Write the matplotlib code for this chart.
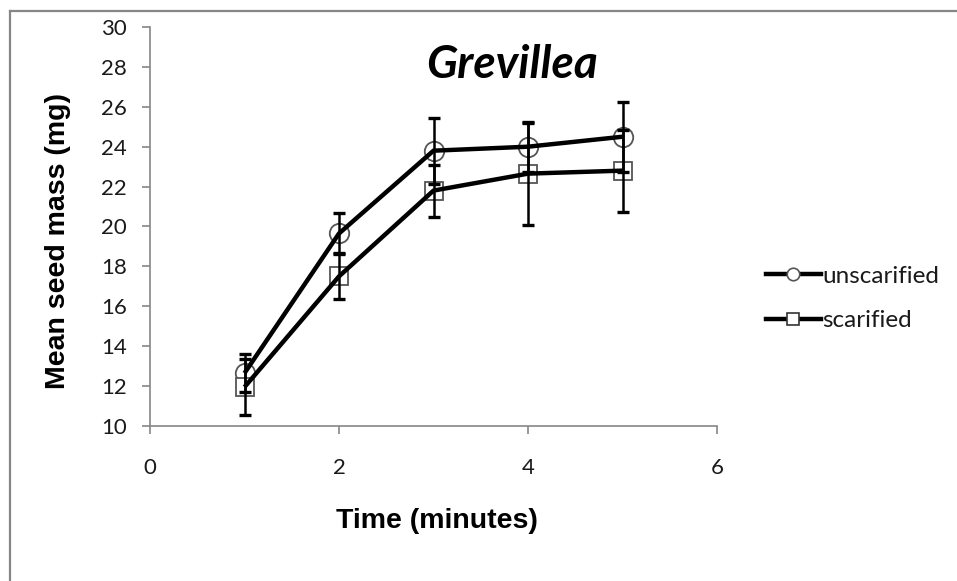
import matplotlib
matplotlib.use("Agg")
import matplotlib.pyplot as plt
from matplotlib.lines import Line2D

time = [1, 2, 3, 4, 5]
unscarified = [12.65, 19.65, 23.8, 24.0, 24.5]
unscarified_err = [0.95, 1.05, 1.65, 1.25, 1.75]
scarified = [11.95, 17.5, 21.8, 22.65, 22.8]
scarified_err = [1.4, 1.15, 1.3, 2.55, 2.05]
series_names = ["unscarified", "scarified"]
title = "Grevillea"
xlabel = "Time (minutes)"
ylabel = "Mean seed mass (mg)"
xticks = [0, 2, 4, 6]
yticks = [10, 12, 14, 16, 18, 20, 22, 24, 26, 28, 30]

W, H = 957, 581
fig = plt.figure(figsize=(W / 100, H / 100), dpi=100)
fig.patch.set_facecolor("white")
# outer chart-area border (only left and top visible in the frame)
fig.add_artist(Line2D([9.5 / W, 9.5 / W], [0, 1 - 10.5 / H], transform=fig.transFigure,
                      color="#868686", linewidth=1.6))
fig.add_artist(Line2D([9.5 / W, 1], [1 - 10.5 / H, 1 - 10.5 / H], transform=fig.transFigure,
                      color="#868686", linewidth=1.6))

ax = fig.add_axes([150 / W, 1 - 426 / H, (717 - 150) / W, (426 - 27) / H])
ax.set_xlim(0, 6)
ax.set_ylim(10, 30)
for s in ["top", "right"]:
    ax.spines[s].set_visible(False)
for s in ["left", "bottom"]:
    ax.spines[s].set_color("#868686")
    ax.spines[s].set_linewidth(1.2)
ax.tick_params(axis="both", direction="out", length=5.8, width=1.2, color="#868686",
               labelsize=16, labelcolor="#1a1a1a")
ax.tick_params(axis="x", pad=17)
ax.tick_params(axis="y", pad=11)
ax.set_xticks(xticks)
ax.set_yticks(yticks)
for lab in ax.get_xticklabels() + ax.get_yticklabels():
    lab.set_family("Lato")

ms_styles = [("o", 14), ("s", 13)]
for vals, errs, (mk, ms) in zip([unscarified, scarified], [unscarified_err, scarified_err], ms_styles):
    ax.plot(time, vals, linestyle="none", marker=mk, markersize=ms,
            markerfacecolor="white", markeredgecolor="#555555", markeredgewidth=1.3, zorder=2)
    ax.errorbar(time, vals, yerr=errs, fmt="none", ecolor="black", elinewidth=1.8,
                capsize=4.5, capthick=2.4, zorder=3)
    ax.plot(time, vals, color="black", linewidth=3.2, zorder=4, solid_capstyle="butt")

fig.text(512 / W, 1 - 65 / H, title, fontsize=33, fontweight="bold", fontstyle="italic",
         family="Lato", ha="center", va="center")
fig.text(437 / W, 1 - 521 / H, xlabel, fontsize=20.5, fontweight="bold",
         family="Liberation Sans", ha="center", va="center")
fig.text(58 / W, 1 - 241 / H, ylabel, fontsize=20.5, fontweight="bold",
         family="Liberation Sans", ha="center", va="center", rotation=90)

handles = [
    Line2D([0], [0], color="black", linewidth=3.2, marker="o", markersize=9,
           markerfacecolor="white", markeredgecolor="#555555", markeredgewidth=1.2),
    Line2D([0], [0], color="black", linewidth=3.2, marker="s", markersize=9,
           markerfacecolor="white", markeredgecolor="#333333", markeredgewidth=1.2),
]
leg = fig.legend(handles, series_names, loc="center left",
                 bbox_to_anchor=(744 / W, 1 - 298.5 / H), frameon=False,
                 handlelength=2.26, handletextpad=0.05, labelspacing=0.98,
                 prop={"family": "Lato", "size": 17.5})
for t in leg.get_texts():
    t.set_color("#1a1a1a")

fig.savefig("out.png", dpi=100, facecolor="white")
